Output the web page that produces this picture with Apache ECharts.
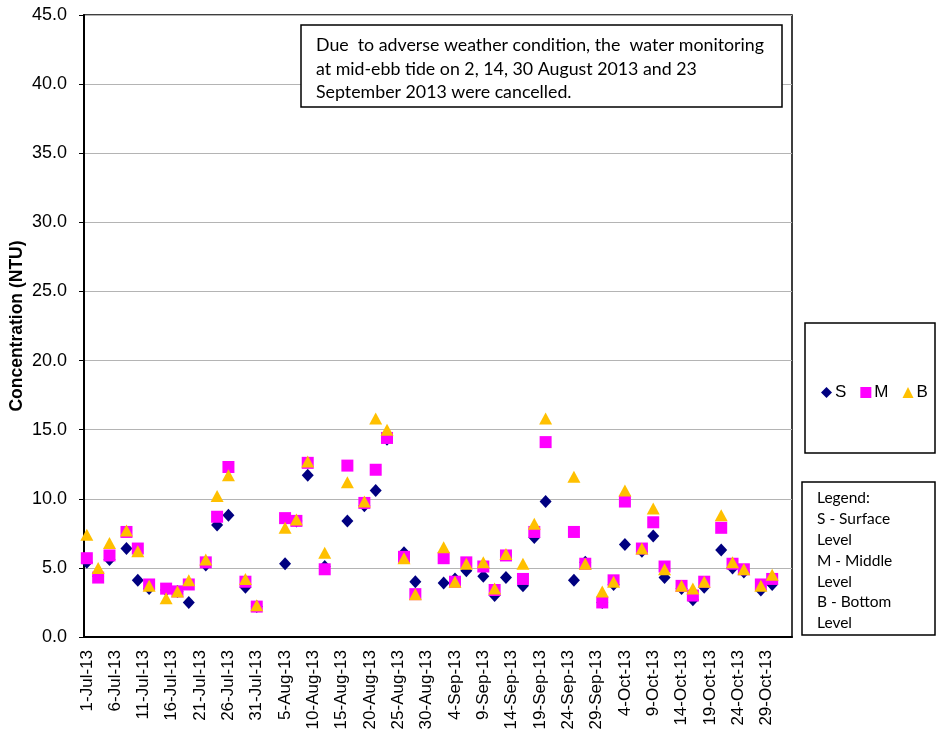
<!DOCTYPE html>
<html>
<head>
<meta charset="utf-8">
<script src="https://cdn.jsdelivr.net/npm/echarts@6/dist/echarts.min.js"></script>
<style>
  html, body {margin: 0; padding: 0; background: #fff;}
  #main {width: 942px; height: 745px;}
</style>
</head>
<body>
<div id="main"></div>
<script>
// sampling dates (mid-ebb tide)
const sampleDates = ['1-Jul-13','3-Jul-13','5-Jul-13','8-Jul-13','10-Jul-13','12-Jul-13','15-Jul-13','17-Jul-13','19-Jul-13',
  '22-Jul-13','24-Jul-13','26-Jul-13','29-Jul-13','31-Jul-13','5-Aug-13','7-Aug-13','9-Aug-13','12-Aug-13','16-Aug-13',
  '19-Aug-13','21-Aug-13','23-Aug-13','26-Aug-13','28-Aug-13','2-Sep-13','4-Sep-13','6-Sep-13','9-Sep-13','11-Sep-13',
  '13-Sep-13','16-Sep-13','18-Sep-13','20-Sep-13','25-Sep-13','27-Sep-13','30-Sep-13','2-Oct-13','4-Oct-13','7-Oct-13',
  '9-Oct-13','11-Oct-13','14-Oct-13','16-Oct-13','18-Oct-13','21-Oct-13','23-Oct-13','25-Oct-13','28-Oct-13','30-Oct-13'];

// S - surface
const surface = [5.4,4.4,5.6,6.4,4.1,3.5,3.4,3.3,2.5,
  5.2,8.1,8.8,3.6,2.2,5.3,8.4,11.7,5.1,8.4,
  9.5,10.6,14.3,6.1,4.0,3.9,4.2,4.8,4.4,3.0,
  4.3,3.7,7.2,9.8,4.1,5.4,2.5,3.8,6.7,6.2,
  7.3,4.3,3.5,2.7,3.6,6.3,5.0,4.7,3.4,3.8];
// M - middle
const middle = [5.7,4.3,5.9,7.6,6.4,3.8,3.5,3.3,3.8,
  5.4,8.7,12.3,4.0,2.2,8.6,8.4,12.6,4.9,12.4,
  9.7,12.1,14.4,5.8,3.1,5.7,4.0,5.4,5.1,3.4,
  5.9,4.2,7.6,14.1,7.6,5.3,2.5,4.1,9.8,6.4,
  8.3,5.1,3.7,3.0,4.0,7.9,5.3,4.9,3.8,4.2];
// B - bottom
const bottom = [7.4,5.0,6.8,7.7,6.2,3.7,2.8,3.3,4.1,
  5.6,10.2,11.7,4.2,2.3,7.9,8.5,12.7,6.1,11.2,
  9.8,15.8,15.0,5.7,3.1,6.5,4.0,5.3,5.4,3.5,
  6.0,5.3,8.2,15.8,11.6,5.3,3.3,4.0,10.6,6.4,
  9.3,4.9,3.7,3.5,4.0,8.8,5.4,4.9,3.7,4.5];

const noteText = 'Due  to adverse weather condition, the  water monitoring\nat mid-ebb tide on 2, 14, 30 August 2013 and 23\nSeptember 2013 were cancelled.';
const legendText = 'Legend:\nS - Surface\nLevel\nM - Middle\nLevel\nB - Bottom\nLevel';

// every day from 1-Jul-13 to 2-Nov-13 on the date axis
const months = ['Jan','Feb','Mar','Apr','May','Jun','Jul','Aug','Sep','Oct','Nov','Dec'];
let days = [];
for (let i = 0; i < 125; i++) {
  let d = new Date(Date.UTC(2013, 6, 1 + i));
  days.push(d.getUTCDate() + '-' + months[d.getUTCMonth()] + '-13');
}

function pairs(values) {
  let out = [];
  for (let i = 0; i < sampleDates.length; i++) {
    out.push([sampleDates[i], values[i]]);
  }
  return out;
}

const myChart = echarts.init(document.getElementById('main'), null, {renderer: 'canvas'});
const axisFont = 'Liberation Sans';

let option = {
  backgroundColor: '#fff',
  animation: false,
  grid: {
    left: 84, right: 150, top: 15, bottom: 108,
    containLabel: false, outerBoundsMode: 'none',
    show: true, borderColor: '#000', borderWidth: 1.5, backgroundColor: 'transparent'
  },
  legend: {
    left: 816, top: 379,
    itemWidth: 11, itemHeight: 11, itemGap: 14,
    textStyle: {fontFamily: axisFont, fontSize: 17, color: '#000', padding: [0, 0, 0, -2]},
    data: ['S', 'M', 'B']
  },
  xAxis: {
    type: 'category',
    data: days,
    boundaryGap: true,
    axisLine: {lineStyle: {color: '#000', width: 2}},
    axisTick: {interval: 4, length: 5, lineStyle: {color: '#000'}},
    axisLabel: {interval: 4, rotate: 90, fontFamily: axisFont, fontSize: 17, color: '#000', margin: 13},
    splitLine: {show: false}
  },
  yAxis: {
    type: 'value',
    min: 0, max: 45, interval: 5,
    name: 'Concentration (NTU)',
    nameLocation: 'middle',
    nameGap: 58,
    nameMoveOverlap: false,
    nameTextStyle: {fontFamily: axisFont, fontSize: 17.5, fontWeight: 'bold', color: '#000'},
    axisLine: {show: true, lineStyle: {color: '#000', width: 2}},
    axisTick: {show: true, length: 5, lineStyle: {color: '#000'}},
    axisLabel: {fontFamily: axisFont, fontSize: 18, color: '#000', margin: 17,
      formatter: function (v) { return v.toFixed(1); }},
    splitLine: {lineStyle: {color: '#b4b4b4', width: 1}}
  },
  series: [
    {name: 'S', type: 'scatter', symbol: 'diamond', symbolSize: [12, 13],
      itemStyle: {color: '#000080', opacity: 1}, data: pairs(surface)},
    {name: 'M', type: 'scatter', symbol: 'rect', symbolSize: 12,
      itemStyle: {color: '#ff00ff', opacity: 1}, data: pairs(middle)},
    {name: 'B', type: 'scatter', symbol: 'triangle', symbolSize: [13, 12],
      itemStyle: {color: '#ffc000', opacity: 1}, data: pairs(bottom)}
  ],
  graphic: [
    {type: 'rect', shape: {x: 301, y: 25, width: 481, height: 82}, z: 10,
      style: {fill: '#fff', stroke: '#000', lineWidth: 1.5}},
    {type: 'text', x: 316, y: 34, z: 11,
      style: {text: noteText, font: '17.8px Lato', fill: '#000', lineHeight: 23.5, textVerticalAlign: 'top'}},
    {type: 'rect', shape: {x: 805, y: 323, width: 130, height: 130}, z: 1,
      style: {fill: '#fff', stroke: '#000', lineWidth: 1.5}},
    {type: 'rect', shape: {x: 802, y: 482, width: 133, height: 153}, z: 1,
      style: {fill: '#fff', stroke: '#000', lineWidth: 1.5}},
    {type: 'text', x: 817, y: 488, z: 11,
      style: {text: legendText, font: '15.5px Lato', fill: '#000', lineHeight: 20.8, textVerticalAlign: 'top'}}
  ]
};

myChart.setOption(option);
</script>
</body>
</html>
